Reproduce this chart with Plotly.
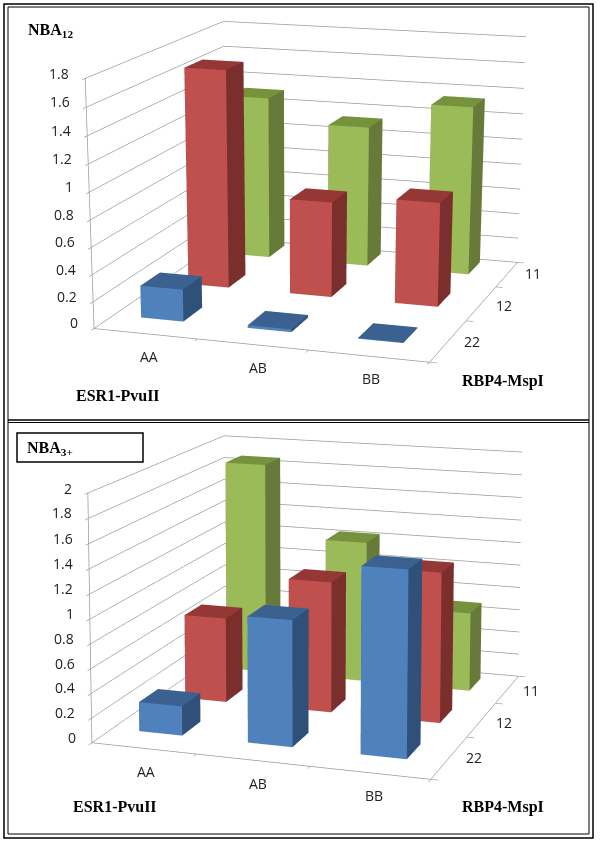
import plotly.graph_objects as go

esr1 = ["AA", "AB", "BB"]
rbp4 = ["22", "12", "11"]
nba12_22 = [0.24, 0.02, 0.005]
nba12_12 = [1.67, 0.73, 0.79]
nba12_11 = [1.29, 1.11, 1.32]
nba3_22 = [0.24, 1.02, 1.49]
nba3_12 = [0.72, 1.10, 1.25]
nba3_11 = [1.86, 1.23, 0.68]
ticks12 = [0, 0.2, 0.4, 0.6, 0.8, 1, 1.2, 1.4, 1.6, 1.8]
ticks3 = [0, 0.2, 0.4, 0.6, 0.8, 1, 1.2, 1.4, 1.6, 1.8, 2]
colors = {
    "22": ("#4F81BD", "#2F5078", "#3A6190"),
    "12": ("#C0504D", "#7B2F2D", "#953735"),
    "11": ("#9BBB59", "#677A3A", "#76923C"),
}
BAR = 0.4
W, H, SHIFT = 600, 1690, 422
EPS = 0.012


def bars(values, depth, palette, scene):
    xs, ys, zs, i, j, k, fc = [], [], [], [], [], [], []
    front, side, top = palette
    for c, v in enumerate(values):
        x0, x1 = c + 0.5 - BAR / 2, c + 0.5 + BAR / 2
        y0, y1 = depth + 0.5 - BAR / 2, depth + 0.5 + BAR / 2
        n = len(xs)
        xs += [x0, x1, x1, x0, x0, x1, x1, x0]
        ys += [y0, y0, y1, y1, y0, y0, y1, y1]
        zs += [0, 0, 0, 0, v, v, v, v]
        quads = [(0, 1, 5, 4, front), (1, 2, 6, 5, side), (4, 5, 6, 7, top),
                 (3, 0, 4, 7, side), (2, 3, 7, 6, side), (0, 3, 2, 1, side)]
        for a, b, d, e, col in quads:
            i += [n + a, n + a]; j += [n + b, n + d]; k += [n + d, n + e]
            fc += [col, col]
    return go.Mesh3d(x=xs, y=ys, z=zs, i=i, j=j, k=k, facecolor=fc, flatshading=True,
                     lighting=dict(ambient=1, diffuse=0, specular=0, fresnel=0, roughness=1),
                     hoverinfo="skip", scene=scene, showscale=False)


fig = go.Figure()
for name, vals, d in [("22", nba12_22, 0), ("12", nba12_12, 1), ("11", nba12_11, 2)]:
    fig.add_trace(bars(vals, d, colors[name], "scene"))
for name, vals, d in [("22", nba3_22, 0), ("12", nba3_12, 1), ("11", nba3_11, 2)]:
    fig.add_trace(bars(vals, d, colors[name], "scene2"))


def scene(ticks, zmax, eye, center, asp, xr, yr):
    grey = "#9A9A9A"
    font = dict(family="Open Sans", size=14, color="#222222")
    common = dict(showgrid=False, zeroline=False, showline=True, linecolor=grey, linewidth=1.5,
                  ticks="outside", ticklen=6, tickwidth=1.5, tickcolor=grey, title="", showticklabels=False,
                  showbackground=False, showspikes=False)
    notes = []
    for c, t in enumerate(esr1):
        notes.append(dict(x=c + 0.5, y=yr[0] + EPS, z=EPS, text=t, showarrow=False, font=font,
                          xanchor="center", yanchor="middle", xshift=5, yshift=-25))
    for d, t in enumerate(rbp4):
        notes.append(dict(x=xr[1] - EPS, y=d + 0.5, z=EPS, text=t, showarrow=False, font=font,
                          xanchor="center", yanchor="middle", xshift=24, yshift=-4))
    for t in ticks:
        notes.append(dict(x=xr[0] + EPS, y=yr[0] + EPS, z=min(t + EPS / 4, zmax - EPS / 4), text=f"{t:g}",
                          showarrow=False, font=font, xanchor="right", yanchor="middle", xshift=-16, yshift=5))
    return dict(
        domain=dict(x=[0, 1], y=[0, 1]),
        xaxis=dict(range=list(xr), tickvals=[xr[0], 1, 2, xr[1]], **common),
        yaxis=dict(range=list(yr), tickvals=[yr[0], 1, 2, yr[1]], **common),
        zaxis=dict(range=[0, zmax], tickvals=ticks, **{**common, "showgrid": True}, gridcolor=grey, gridwidth=1.5),
        aspectmode="manual",
        aspectratio=dict(x=1, y=asp[0], z=asp[1]),
        camera=dict(eye=dict(zip("xyz", eye)), up=dict(x=0, y=0, z=1),
                    center=dict(zip("xyz", center)), projection=dict(type="perspective")),
        bgcolor="rgba(0,0,0,0)",
        annotations=notes,
    )


def lab(text, x, y, size=16):
    return dict(text=text, x=x, y=y, xref="paper", yref="paper", xanchor="center", yanchor="middle",
                showarrow=False, font=dict(family="Liberation Serif", size=size, color="black"))


fx = lambda px: px / W
fy = lambda py: 1 - (py + SHIFT) / H
rect = lambda x0, y0, x1, y1, w=1.5: dict(type="rect", xref="paper", yref="paper",
                                         x0=fx(x0), x1=fx(x1), y0=fy(y0), y1=fy(y1),
                                         line=dict(color="black", width=w), layer="above")
fig.update_layout(
    width=W, height=H, margin=dict(l=0, r=0, t=0, b=0), paper_bgcolor="white", showlegend=False,
    scene=scene(ticks12, 1.8, (1.839, -5.71, 1.364), (0.16, -0.651, -0.542), (1.098, 0.723),
                (0.041, 3.047), (-0.083, 2.796)),
    scene2=scene(ticks3, 2, (1.869, -5.661, 1.426), (-0.188, 0.394, 0.441), (1.069, 0.725),
                 (0.049, 3.021), (-0.107, 2.885)),
    shapes=[rect(4, 4, 593, 838), rect(8, 7, 589, 834, 1),
            dict(type="line", xref="paper", yref="paper", x0=fx(8), x1=fx(589), y0=fy(420), y1=fy(420),
                 line=dict(color="black", width=1.5)),
            dict(type="line", xref="paper", yref="paper", x0=fx(8), x1=fx(589), y0=fy(422.5), y1=fy(422.5),
                 line=dict(color="black", width=1)),
            rect(17, 433, 143, 462)],
    annotations=[lab("<b>NBA<sub>12</sub></b>", fx(50), fy(30)),
                 lab("<b>NBA<sub>3+</sub></b>", fx(50), fy(449)),
                 lab("<b>ESR1-PvuII</b>", fx(118), fy(395)),
                 lab("<b>RBP4-MspI</b>", fx(503), fy(381)),
                 lab("<b>ESR1-PvuII</b>", fx(115), fy(806)),
                 lab("<b>RBP4-MspI</b>", fx(503), fy(807))],
)
fig.write_html("out.html", config=dict(displayModeBar=False),
               post_script=f"document.body.style.margin='0';document.documentElement.style.overflow='hidden';"
                           f"document.body.style.overflow='hidden';document.body.style.marginTop='-{SHIFT}px';")
